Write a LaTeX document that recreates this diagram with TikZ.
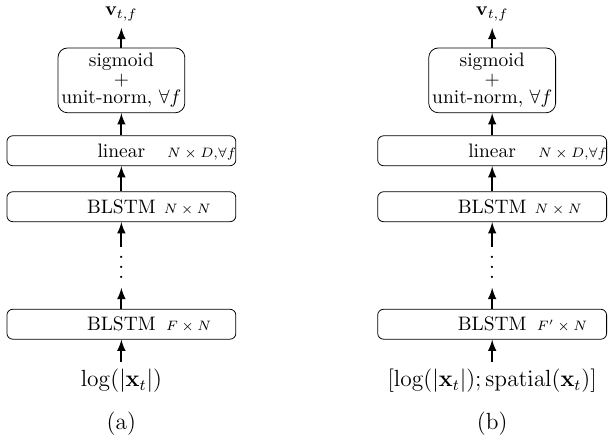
\documentclass[tikz,border=0pt]{standalone}
\begin{document}
\begin{tikzpicture}[>=latex,
    layer/.style={draw=black, rounded corners=3pt, minimum width=4.13cm, minimum height=0.54cm, inner sep=1pt},
    outbox/.style={draw=black, rounded corners=5pt, align=center, minimum width=2.29cm, minimum height=1.17cm, inner sep=1pt},
    dim/.style={anchor=base west, font=\scriptsize, inner sep=0pt},
    dots/.style={font=\large, inner xsep=0pt, inner ysep=4.6pt},
    flow/.style={->, line width=1pt}]
  \useasboundingbox (0,0) rectangle (10.97,-7.88);
  % (a)
  \node (Va) at (2.19,-0.25) {$\mathbf{v}_{t,f}$};
  \node[outbox] (Sa) at (2.19,-1.45) {sigmoid\\[-2.5pt]+\\[-2.5pt]unit-norm, $\forall f$};
  \node[layer] (La) at (2.19,-2.72) {linear};
  \node[dim] at ([xshift=0.82cm]La.base) {$N\times D{,}\forall f$};
  \node[layer] (Ba) at (2.19,-3.73) {BLSTM};
  \node[dim] at ([xshift=0.76cm]Ba.base) {$N\times N$};
  \node[dots] (Da) at (2.19,-4.82) {\vbox{\baselineskip=5.2pt\lineskiplimit=0pt\hbox{.}\hbox{.}\hbox{.}}};
  \node[layer] (Ca) at (2.19,-5.85) {BLSTM};
  \node[dim] at ([xshift=0.8cm]Ca.base) {$F\times N$};
  \node[font=\large] (Xa) at (2.19,-6.87) {$\log(|\mathbf{x}_t|)$};
  \node[font=\large] (Ta) at (2.19,-7.64) {(a)};
  \draw[flow] (Xa) -- (Ca);
  \draw[flow] (Ca) -- (Da);
  \draw[flow] (Da) -- (Ba);
  \draw[flow] (Ba) -- (La);
  \draw[flow] (La) -- (Sa);
  \draw[flow] (Sa) -- (Va);
  % (b)
  \node (Vb) at (8.88,-0.25) {$\mathbf{v}_{t,f}$};
  \node[outbox] (Sb) at (8.88,-1.45) {sigmoid\\[-2.5pt]+\\[-2.5pt]unit-norm, $\forall f$};
  \node[layer] (Lb) at (8.88,-2.72) {linear};
  \node[dim] at ([xshift=0.82cm]Lb.base) {$N\times D{,}\forall f$};
  \node[layer] (Bb) at (8.88,-3.73) {BLSTM};
  \node[dim] at ([xshift=0.76cm]Bb.base) {$N\times N$};
  \node[dots] (Db) at (8.88,-4.82) {\vbox{\baselineskip=5.2pt\lineskiplimit=0pt\hbox{.}\hbox{.}\hbox{.}}};
  \node[layer] (Cb) at (8.88,-5.85) {BLSTM};
  \node[dim] at ([xshift=0.8cm]Cb.base) {$F'\times N$};
  \node[font=\large] (Xb) at (8.88,-6.87) {$[\log(|\mathbf{x}_t|);\mathrm{spatial}(\mathbf{x}_t)]$};
  \node[font=\large] (Tb) at (8.88,-7.64) {(b)};
  \draw[flow] (Xb) -- (Cb);
  \draw[flow] (Cb) -- (Db);
  \draw[flow] (Db) -- (Bb);
  \draw[flow] (Bb) -- (Lb);
  \draw[flow] (Lb) -- (Sb);
  \draw[flow] (Sb) -- (Vb);
\end{tikzpicture}
\end{document}
